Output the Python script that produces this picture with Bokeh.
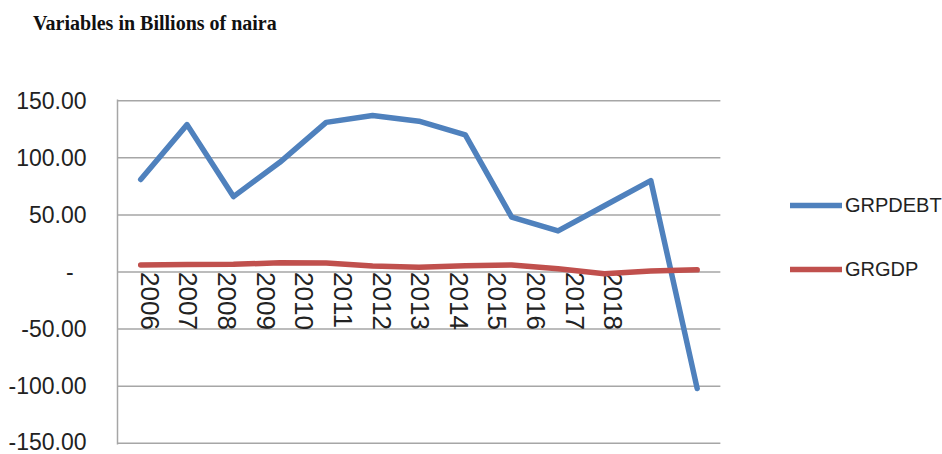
import math

from bokeh.core.properties import value
from bokeh.embed import file_html
from bokeh.layouts import column
from bokeh.models import Div, FixedTicker, Legend, LegendItem, Range1d
from bokeh.plotting import figure
from bokeh.resources import INLINE

# Annual series (billions of naira / growth rates)
years = ["2006", "2007", "2008", "2009", "2010", "2011", "2012",
         "2013", "2014", "2015", "2016", "2017", "2018"]
grpdebt = [81, 129, 66, 96, 131, 137, 132, 120, 48, 36, 58, 80, -102]
grgdp = [6.06, 6.59, 6.76, 8.04, 7.98, 5.31, 4.21, 5.49, 6.22, 2.79, -1.58, 0.82, 1.91]
y_ticks = [-150, -100, -50, 0, 50, 100, 150]
y_tick_labels = ["-150.00", "-100.00", "-50.00", "-\u00a0\u00a0", "50.00", "100.00", "150.00"]

TITLE = "Variables in Billions of naira"
BLUE = "#4F81BD"
RED = "#C0504D"
GRID = "#a6a6a6"
SANS = "Liberation Sans"

idx = list(range(len(years)))
n = len(years)

# --- heading -------------------------------------------------------------
head = Div(
    text=TITLE, width=942, height=40, margin=0,
    styles={
        "font-family": "Liberation Serif", "font-weight": "bold",
        "font-size": "20px", "line-height": "24px", "color": "#111111",
        "padding-left": "33px", "padding-top": "11px",
        "box-sizing": "border-box", "white-space": "nowrap",
    },
)

# --- main chart ----------------------------------------------------------
# the frame runs to the right edge so the legend can sit inside it;
# the plotting area proper spans the category slots -0.5 .. n-0.5
p = figure(
    width=942, height=414,
    output_backend="svg", toolbar_location=None,
    x_range=Range1d(-0.5, 17.29), y_range=Range1d(-151, 151),
    min_border_left=117, min_border_right=0,
    min_border_top=59, min_border_bottom=10,
)
p.outline_line_color = None
p.background_fill_color = "white"
p.border_fill_color = "white"

# category labels sit on the zero line, rotated, on their own index scale
p.extra_x_ranges = {"years": Range1d(-0.6, 20.75)}

p.xaxis.visible = False
p.xgrid.grid_line_color = None
p.ygrid.grid_line_color = None

# horizontal gridlines across the category slots
p.segment(x0=[-0.5] * len(y_ticks), x1=[n - 0.5] * len(y_ticks),
          y0=y_ticks, y1=y_ticks, line_color=GRID, line_width=1.5)

ax = p.yaxis[0]
ax.ticker = FixedTicker(ticks=y_ticks)
ax.major_label_overrides = {t: s for t, s in zip(y_ticks, y_tick_labels)}
ax.major_tick_line_color = None
ax.minor_tick_line_color = None
ax.major_tick_out = 0
ax.major_tick_in = 0
ax.axis_line_color = GRID
ax.axis_line_width = 1.5
ax.major_label_standoff = 31
ax.major_label_text_font = SANS
ax.major_label_text_font_size = "23px"
ax.major_label_text_color = "#222222"

p.text(x=idx, y=[0] * n, text=years, x_range_name="years",
       angle=-math.pi / 2, text_align="left", text_baseline="middle",
       x_offset=9, y_offset=0, text_font=value(SANS),
       text_font_size="26px", text_color="#222222")

debt_r = p.line(idx, grpdebt, line_color=BLUE, line_width=5.5,
                line_join="round", line_cap="round")
gdp_r = p.line(idx, grgdp, line_color=RED, line_width=5.5,
               line_join="round", line_cap="round")

legend = Legend(
    items=[LegendItem(label="GRPDEBT", renderers=[debt_r]),
           LegendItem(label="GRGDP", renderers=[gdp_r])],
    location=(673, 163),
    padding=0, margin=0, spacing=40,
    glyph_width=52, glyph_height=24, label_height=24,
    label_standoff=3,
    label_text_font=SANS, label_text_font_size="20px",
    label_text_color="#222222",
    border_line_color=None, background_fill_alpha=0,
)
p.add_layout(legend)

open("out.html", "w").write(file_html(column(head, p, spacing=0), INLINE))
